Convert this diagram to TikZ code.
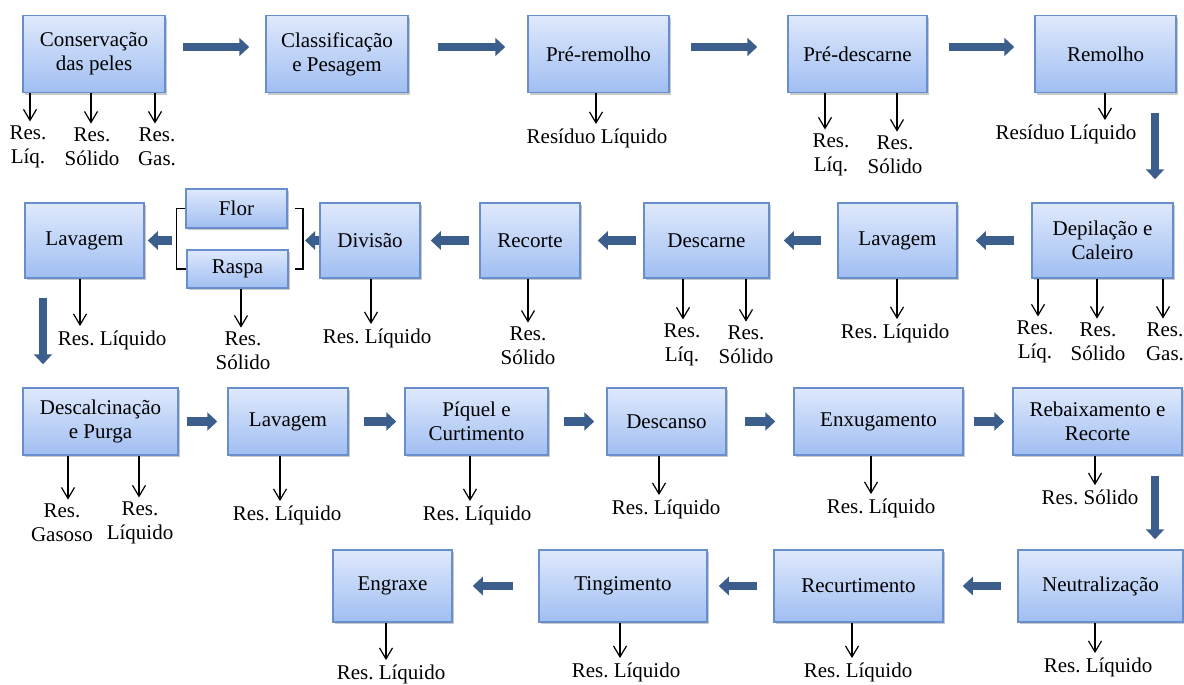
\documentclass[tikz,border=0pt]{standalone}
\usepackage{fontspec}
\setmainfont{Liberation Serif}
\usetikzlibrary{arrows.meta,positioning,shadows}
\frenchspacing

\definecolor{boxtop}{RGB}{223,233,252}
\definecolor{boxbottom}{RGB}{160,190,242}
\definecolor{boxline}{RGB}{104,142,204}
\definecolor{flowblue}{RGB}{59,94,140}

% residue arrow: box, x position, label node
\newcommand\resflow[3]{\draw[outarrow] (#1.south -| #2,0) -- (#2,0 |- #3.north);}

\begin{document}
\begin{tikzpicture}[x=0.5pt, y=-0.5pt,
    font=\fontsize{10.5}{12}\selectfont,
    procbox/.style={draw=boxline, line width=0.75pt, top color=boxtop, bottom color=boxbottom,
        align=center, inner sep=2pt,
        drop shadow={shadow xshift=1pt, shadow yshift=-1pt, opacity=0.3, fill=black!70}},
    flowarrow/.style={draw=flowblue, line width=4.25pt, -{Triangle[length=5pt,width=9pt]}},
    outarrow/.style={line width=0.6pt, -{Straight Barb[length=5.5pt,width=6.5pt]}, shorten >=1pt},
    reslabel/.style={align=center, inner sep=1pt}]
    \useasboundingbox (0,0) rectangle (1184,685);

    % Row 1
    \node[procbox, minimum width=71pt, minimum height=38.5pt] (conserv) at (94,54) {Conservação\\das peles};
    \node[procbox, minimum width=71pt, minimum height=38.5pt] (classif) at (337,54) {Classificação\\e Pesagem};
    \node[procbox, minimum width=70.5pt, minimum height=38.5pt] (preremolho) at (598.5,54) {Pré-remolho};
    \node[procbox, minimum width=69.5pt, minimum height=38.5pt] (predescarne) at (857.5,54) {Pré-descarne};
    \node[procbox, minimum width=70.5pt, minimum height=38.5pt] (remolho) at (1105.5,54) {Remolho};

    \draw[flowarrow, shorten <=8.5pt, shorten >=8pt] ([yshift=3.5pt]conserv.east) -- ([yshift=3.5pt]classif.west);
    \draw[flowarrow, shorten <=14.5pt, shorten >=11pt] ([yshift=3.5pt]classif.east) -- ([yshift=3.5pt]preremolho.west);
    \draw[flowarrow, shorten <=10.5pt, shorten >=15pt] ([yshift=3.5pt]preremolho.east) -- ([yshift=3.5pt]predescarne.west);
    \draw[flowarrow, shorten <=10.5pt, shorten >=10pt] ([yshift=3.5pt]predescarne.east) -- ([yshift=3.5pt]remolho.west);

    \node[reslabel] (lq1) at (28,147) {Res.\\Líq.};
    \node[reslabel] (sd1) at (92,147) {Res.\\Sólido};
    \node[reslabel] (gs1) at (157,147) {Res.\\Gas.};
    \node[reslabel] (rl1) at (597,138) {Resíduo Líquido};
    \node[reslabel] (lq2) at (831,155) {Res.\\Líq.};
    \node[reslabel] (sd2) at (895,155) {Res.\\Sólido};
    \node[reslabel] (rl2) at (1066,134) {Resíduo Líquido};
    \resflow{conserv}{30}{lq1}
    \resflow{conserv}{91}{sd1}
    \resflow{conserv}{155}{gs1}
    \resflow{preremolho}{596}{rl1}
    \resflow{predescarne}{825}{lq2}
    \resflow{predescarne}{897}{sd2}
    \resflow{remolho}{1105}{rl2}

    % Row 2
    \node[procbox, minimum width=70.5pt, minimum height=37.5pt] (depilacao) at (1102.5,240.5) {Depilação e\\Caleiro};
    \node[procbox, minimum width=59.5pt, minimum height=37.5pt] (lavagemA) at (897.5,240.5) {Lavagem};
    \node[procbox, minimum width=62.5pt, minimum height=37.5pt] (descarne) at (706.5,240.5) {Descarne};
    \node[procbox, minimum width=50pt, minimum height=37.5pt] (recorte) at (530,240.5) {Recorte};
    \node[procbox, minimum width=50pt, minimum height=37.5pt] (divisao) at (370,240.5) {Divisão};
    \node[procbox, minimum width=50.5pt, minimum height=19.5pt] (flor) at (236.5,208.5) {Flor};
    \node[procbox, minimum width=50.5pt, minimum height=19pt] (raspa) at (237.5,269) {Raspa};
    \node[procbox, minimum width=59.5pt, minimum height=37.5pt] (lavagemB) at (84.5,240.5) {Lavagem};

    % bracket round Flor and Raspa
    \draw[line width=0.75pt] (flor.west) -- ++(-9,0) |- (raspa.west);
    \draw[line width=0.75pt] ([xshift=3.5pt]flor.east) -- ++(8,0) |- ([xshift=3pt]raspa.east);
    \coordinate (brL) at (177,240.5);
    \coordinate (brR) at (302,240.5);

    \draw[flowarrow, shorten <=8.5pt, shorten >=9pt] (depilacao.west) -- (lavagemA.east);
    \draw[flowarrow, shorten <=8pt, shorten >=7pt] (lavagemA.west) -- (descarne.east);
    \draw[flowarrow, shorten <=3.5pt, shorten >=8.5pt] (descarne.west) -- (recorte.east);
    \draw[flowarrow, shorten <=5pt, shorten >=5pt] (recorte.west) -- (divisao.east);
    \draw[flowarrow, shorten >=1.5pt] (divisao.west) -- (brR);
    \draw[flowarrow, shorten <=2.5pt, shorten >=1.5pt] (brL) -- (lavagemB.east);

    \node[reslabel] (lq3) at (1035,342) {Res.\\Líq.};
    \node[reslabel] (sd3) at (1098,342) {Res.\\Sólido};
    \node[reslabel] (gs3) at (1165,342) {Res.\\Gas.};
    \node[reslabel] (rl3) at (895,333) {Res. Líquido};
    \node[reslabel] (lq4) at (682,345) {Res.\\Líq.};
    \node[reslabel] (sd4) at (746,345) {Res.\\Sólido};
    \node[reslabel] (sd5) at (528,346) {Res.\\Sólido};
    \node[reslabel] (rl4) at (377,338) {Res. Líquido};
    \node[reslabel] (sd6) at (243,351) {Res.\\Sólido};
    \node[reslabel] (rl5) at (112,340) {Res. Líquido};
    \resflow{depilacao}{1038}{lq3}
    \resflow{depilacao}{1097}{sd3}
    \resflow{depilacao}{1163}{gs3}
    \resflow{lavagemA}{897}{rl3}
    \resflow{descarne}{683}{lq4}
    \resflow{descarne}{746}{sd4}
    \resflow{recorte}{528}{sd5}
    \resflow{divisao}{371}{rl4}
    \resflow{raspa}{241}{sd6}
    \resflow{lavagemB}{80}{rl5}

    % Row 3
    \node[procbox, minimum width=77.5pt, minimum height=33.5pt] (descalc) at (100.5,421.5) {Descalcinação\\e Purga};
    \node[procbox, minimum width=60pt, minimum height=33.5pt] (lavagemC) at (288,421.5) {Lavagem};
    \node[procbox, minimum width=71.5pt, minimum height=33.5pt] (piquel) at (476.5,421.5) {Píquel e\\Curtimento};
    \node[procbox, minimum width=59.5pt, minimum height=33.5pt] (descanso) at (666.5,421.5) {Descanso};
    \node[procbox, minimum width=84.5pt, minimum height=33.5pt] (enxug) at (878.5,421.5) {Enxugamento};
    \node[procbox, minimum width=84.5pt, minimum height=33.5pt] (rebaix) at (1097.5,421.5) {Rebaixamento e\\Recorte};

    \draw[flowarrow, shorten <=9.5pt, shorten >=11.5pt] (lavagemB.south -| 43,0) -- (descalc.north -| 43,0);
    \draw[flowarrow, shorten <=4pt, shorten >=5pt] (descalc.east) -- (lavagemC.west);
    \draw[flowarrow, shorten <=7.5pt, shorten >=4pt] (lavagemC.east) -- (piquel.west);
    \draw[flowarrow, shorten <=7.5pt, shorten >=6pt] (piquel.east) -- (descanso.west);
    \draw[flowarrow, shorten <=9pt, shorten >=9pt] (descanso.east) -- (enxug.west);
    \draw[flowarrow, shorten <=5pt, shorten >=4pt] (enxug.east) -- (rebaix.west);

    \node[reslabel] (gs7) at (62,523) {Res.\\Gasoso};
    \node[reslabel] (lq7) at (140,523) {Res.\\Líquido};
    \node[reslabel] (rl6) at (287,515) {Res. Líquido};
    \node[reslabel] (rl7) at (477,515) {Res. Líquido};
    \node[reslabel] (rl8) at (666,509) {Res. Líquido};
    \node[reslabel] (rl9) at (881,508) {Res. Líquido};
    \node[reslabel] (sd8) at (1090,497) {Res. Sólido};
    \resflow{descalc}{68}{gs7}
    \resflow{descalc}{139}{lq7}
    \resflow{lavagemC}{280}{rl6}
    \resflow{piquel}{470}{rl7}
    \resflow{descanso}{659}{rl8}
    \resflow{enxug}{871}{rl9}
    \resflow{rebaix}{1095}{sd8}

    % Row 4
    \node[procbox, minimum width=82.5pt, minimum height=36pt] (neutral) at (1100.5,586) {Neutralização};
    \node[procbox, minimum width=84.5pt, minimum height=36pt] (recurt) at (858.5,586) {Recurtimento};
    \node[procbox, minimum width=84pt, minimum height=36pt] (tingim) at (623,586) {Tingimento};
    \node[procbox, minimum width=59.5pt, minimum height=36pt] (engraxe) at (392.5,586) {Engraxe};

    \draw[flowarrow, shorten <=10pt, shorten >=11.5pt] (remolho.south -| 1155,0) -- (depilacao.north -| 1155,0);
    \draw[flowarrow, shorten <=10pt, shorten >=5pt] (rebaix.south -| 1155,0) -- (neutral.north -| 1155,0);
    \draw[flowarrow, shorten <=8pt, shorten >=9.5pt] (neutral.west) -- (recurt.east);
    \draw[flowarrow, shorten <=8pt, shorten >=5.5pt] (recurt.west) -- (tingim.east);
    \draw[flowarrow, shorten <=12.5pt, shorten >=10pt] (tingim.west) -- (engraxe.east);

    \node[reslabel] (rl10) at (1098,667) {Res. Líquido};
    \node[reslabel] (rl11) at (858,672) {Res. Líquido};
    \node[reslabel] (rl12) at (626,672) {Res. Líquido};
    \node[reslabel] (rl13) at (391,674) {Res. Líquido};
    \resflow{neutral}{1095}{rl10}
    \resflow{recurt}{852}{rl11}
    \resflow{tingim}{620}{rl12}
    \resflow{engraxe}{386}{rl13}
\end{tikzpicture}
\end{document}
